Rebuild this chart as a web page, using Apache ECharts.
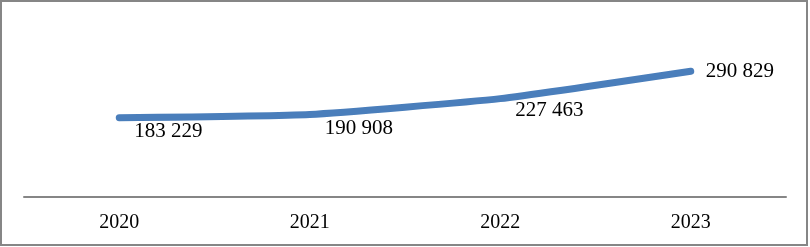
<!DOCTYPE html>
<html>
<head>
<meta charset="utf-8">
<script src="https://cdn.jsdelivr.net/npm/echarts@6/dist/echarts.min.js"></script>
<style>
html,body{margin:0;padding:0;background:#fff;}
#c{width:810px;height:247px;}
</style>
</head>
<body>
<div id="c"></div>
<script>
const categories = ['2020', '2021', '2022', '2023'];
const values = [183229, 190908, 227463, 290829];
const labelTexts = ['183 229', '190 908', '227 463', '290 829'];
const labelOffsetsY = [14, 14, 12, 0];

const chart = echarts.init(document.getElementById('c'), null, {renderer: 'canvas'});
const font = '"Liberation Serif", "Times New Roman", serif';
chart.setOption({
  animation: false,
  backgroundColor: '#ffffff',
  graphic: [{
    type: 'rect',
    shape: {x: 1, y: 1, width: 806, height: 244},
    style: {fill: 'none', stroke: '#868686', lineWidth: 2},
    silent: true
  }],
  grid: {left: 24, right: 24, top: 24, bottom: 50},
  xAxis: {
    type: 'category',
    data: categories,
    boundaryGap: true,
    axisLine: {lineStyle: {color: '#868686', width: 2}},
    axisTick: {show: false},
    axisLabel: {color: '#000', fontFamily: font, fontSize: 20, margin: 16}
  },
  yAxis: {
    type: 'value',
    min: 0,
    max: 400000,
    show: false,
    splitLine: {show: false}
  },
  series: [{
    type: 'line',
    data: values.map((v, i) => ({
      value: v,
      label: {
        show: true,
        position: 'right',
        distance: 15,
        offset: [0, labelOffsetsY[i]],
        formatter: labelTexts[i],
        color: '#000',
        fontFamily: font,
        fontSize: 21
      }
    })),
    smooth: 0.15,
    symbol: 'circle',
    symbolSize: 0.1,
    itemStyle: {color: '#4a7ebb'},
    lineStyle: {color: '#4a7ebb', width: 7, cap: 'round', join: 'round'}
  }]
});
</script>
</body>
</html>
